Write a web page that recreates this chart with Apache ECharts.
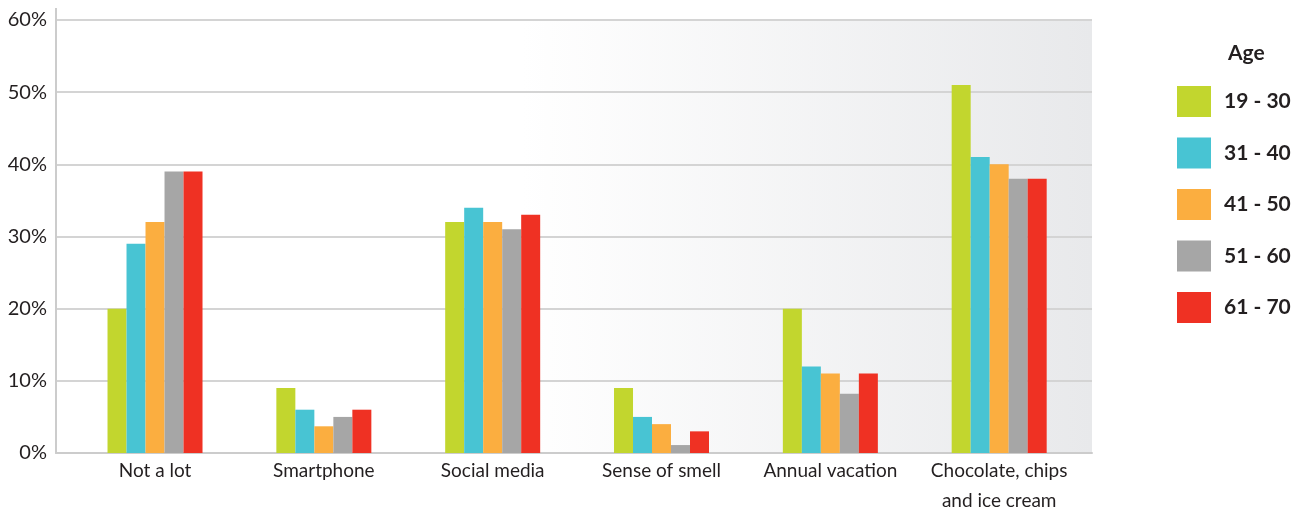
<!DOCTYPE html>
<html>
<head>
<meta charset="utf-8">
<script src="https://cdn.jsdelivr.net/npm/echarts@6/dist/echarts.min.js"></script>
<style>
  html, body { margin: 0; padding: 0; background: #ffffff; }
  #chart { width: 1300px; height: 510px; }
</style>
</head>
<body>
<div id="chart"></div>
<script>
// Share of respondents per age group, by category
const categories = ['Not a lot', 'Smartphone', 'Social media', 'Sense of smell', 'Annual vacation', 'Chocolate, chips\nand ice cream'];
const ageGroups = ['19 - 30', '31 - 40', '41 - 50', '51 - 60', '61 - 70'];
const age19to30 = [20, 9, 32, 9, 20, 51];
const age31to40 = [29, 6, 34, 5, 12, 41];
const age41to50 = [32, 3.7, 32, 4, 11, 40];
const age51to60 = [39, 5, 31, 1.1, 8.2, 38];
const age61to70 = [39, 6, 33, 3, 11, 38];
const yTicks = [0, 10, 20, 30, 40, 50, 60];

const seriesValues = [age19to30, age31to40, age41to50, age51to60, age61to70];
const colors = ['#c2d62e', '#48c4d3', '#fbae40', '#a6a6a6', '#ef3123'];
const font = 'Lato, "Open Sans", sans-serif';

const chart = echarts.init(document.getElementById('chart'), null, { renderer: 'canvas' });

chart.setOption({
  animation: false,
  color: colors,
  title: {
    text: 'Age',
    left: 1223, top: 38,
    textStyle: { fontFamily: font, fontSize: 21, fontWeight: 'bold', color: '#231f20' }
  },
  legend: {
    data: ageGroups,
    orient: 'vertical',
    left: 1172, top: 81,
    itemWidth: 34, itemHeight: 31, itemGap: 20.5,
    icon: 'rect',
    textStyle: { fontFamily: font, fontSize: 21, fontWeight: 'bold', color: '#231f20', padding: [0, 0, 0, 8] }
  },
  grid: [
    {
      // frame: background, gridlines and value labels
      left: 56, right: 208, top: 20, bottom: 57,
      outerBoundsMode: 'none',
      show: true, borderWidth: 0,
      backgroundColor: new echarts.graphic.LinearGradient(0, 0, 1, 0, [
        { offset: 0, color: '#ffffff' },
        { offset: 0.45, color: '#ffffff' },
        { offset: 1, color: '#e8e9eb' }
      ])
    },
    {
      // bars
      left: 70.6, width: 1013, top: 20, bottom: 57,
      outerBoundsMode: 'none'
    }
  ],
  xAxis: [
    {
      gridIndex: 0, type: 'category', data: [''],
      axisLine: { show: true, lineStyle: { color: '#cccccc', width: 2 } },
      axisTick: { show: false }, axisLabel: { show: false }, splitLine: { show: false }
    },
    {
      gridIndex: 1, type: 'category', data: categories,
      axisLine: { show: false }, axisTick: { show: false },
      axisLabel: { fontFamily: font, fontSize: 19, color: '#231f20', margin: 3, lineHeight: 30, interval: 0 }
    }
  ],
  yAxis: [
    {
      gridIndex: 0, type: 'value', min: yTicks[0], max: yTicks[yTicks.length - 1], interval: 10,
      axisLine: { show: true, lineStyle: { color: '#cccccc', width: 2 } },
      axisTick: { show: false },
      splitLine: { show: true, lineStyle: { color: '#d4d4d4', width: 2 } },
      axisLabel: { formatter: '{value}%', fontFamily: font, fontSize: 20, color: '#231f20', margin: 9 }
    },
    {
      gridIndex: 1, type: 'value', min: yTicks[0], max: yTicks[yTicks.length - 1], interval: 10,
      show: false
    }
  ],
  graphic: [
    {
      // vertical axis continues a little above the top gridline
      type: 'line', z: 10,
      shape: { x1: 56, y1: 8, x2: 56, y2: 21 },
      style: { stroke: '#cccccc', lineWidth: 2 }
    }
  ],
  series: ageGroups.map((name, i) => ({
    name: name,
    type: 'bar',
    xAxisIndex: 1, yAxisIndex: 1,
    barWidth: 19, barGap: '0%',
    data: seriesValues[i],
    itemStyle: { color: colors[i] }
  }))
});
</script>
</body>
</html>
